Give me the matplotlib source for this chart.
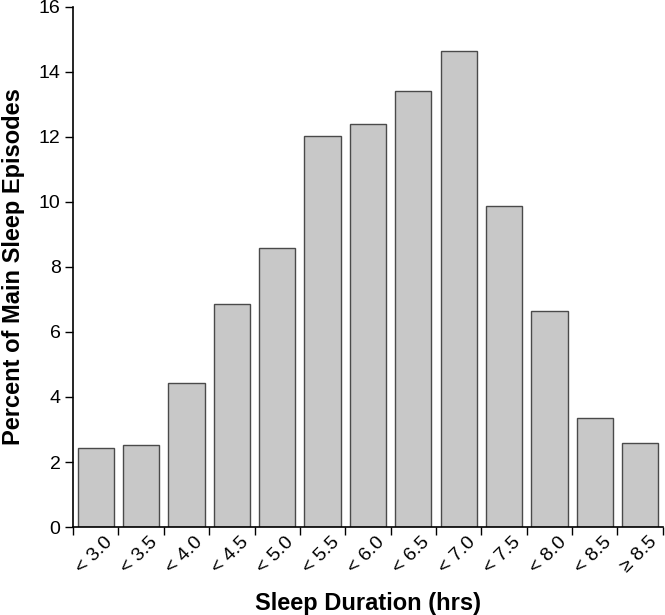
import matplotlib
matplotlib.use("Agg")
import matplotlib.pyplot as plt
import matplotlib.transforms as mtransforms
import numpy as np

# values
categories = ["< 3.0", "< 3.5", "< 4.0", "< 4.5", "< 5.0", "< 5.5", "< 6.0",
              "< 6.5", "< 7.0", "< 7.5", "< 8.0", "< 8.5", "\u2265 8.5"]
percent = [2.43, 2.52, 4.44, 6.87, 8.58, 12.02, 12.41, 13.41, 14.63, 9.87, 6.65, 3.35, 2.60]
y_ticks = [0, 2, 4, 6, 8, 10, 12, 14, 16]

plt.rcParams['font.family'] = ['Liberation Sans', 'DejaVu Sans']

fig = plt.figure(figsize=(6.65, 6.15), dpi=100)
ax = fig.add_axes([0.1098, 0.143, 0.887, 0.846])

x = np.arange(len(categories))
ax.bar(x, percent, width=0.8, color="#c8c8c8", edgecolor="#4a4a4a", linewidth=1.0)

ax.set_xlim(-0.5, len(categories) - 0.5)
ax.set_ylim(0, 16)
ax.set_yticks(y_ticks)
ax.tick_params(axis='y', direction='out', length=6, width=1, labelsize=14, pad=3)

# boundary ticks without labels, category labels on minor ticks
ax.set_xticks(np.arange(len(categories) + 1) - 0.5)
ax.set_xticklabels([])
ax.tick_params(axis='x', which='major', direction='out', length=6, width=1)
ax.set_xticks(x, minor=True)
ax.set_xticklabels(categories, minor=True, rotation=45, ha='right',
                   rotation_mode='anchor', fontsize=14)
ax.tick_params(axis='x', which='minor', length=0, pad=6)
shift = mtransforms.ScaledTranslation(8 / 100, 2 / 100, fig.dpi_scale_trans)
for lbl in ax.get_xticklabels(minor=True):
    lbl.set_transform(lbl.get_transform() + shift)

for side in ['top', 'right']:
    ax.spines[side].set_visible(False)
ax.spines['left'].set_linewidth(1.2)
ax.spines['bottom'].set_linewidth(1.2)

ax.set_xlabel("Sleep Duration (hrs)", fontsize=17, fontweight='bold', labelpad=11)
ax.set_ylabel("Percent of Main Sleep Episodes", fontsize=17, fontweight='bold', labelpad=10)

fig.savefig("out.png", dpi=100)
